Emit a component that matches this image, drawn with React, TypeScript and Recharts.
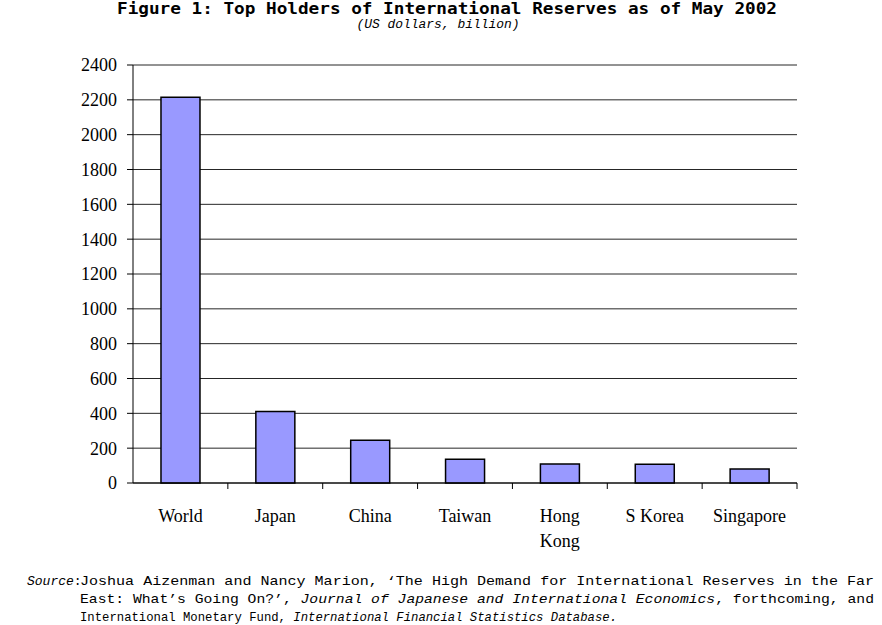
import { Bar, BarChart, CartesianGrid, Text, XAxis, YAxis } from "recharts";

const categories = ["World", "Japan", "China", "Taiwan", "Hong Kong", "S Korea", "Singapore"];
const reserves = [2215, 410, 245, 136, 109, 108, 80];
const yTicks = [0, 200, 400, 600, 800, 1000, 1200, 1400, 1600, 1800, 2000, 2200, 2400];

const data = categories.map((country, i) => ({ country, value: reserves[i] }));

const serif = "'Liberation Serif', 'Times New Roman', serif";
const mono = "'Liberation Mono', 'Courier New', monospace";

function CountryTick(props: any) {
  const { x, y, payload, width, visibleTicksCount } = props;
  const half = width / visibleTicksCount / 2;
  return (
    <g>
      <line x1={x + half} x2={x + half} y1={y} y2={y + 6} stroke="#000" />
      <Text
        x={x}
        y={y + 26}
        width={70}
        textAnchor="middle"
        verticalAnchor="start"
        lineHeight={25}
        style={{ fontSize: 18, fontFamily: serif }}
        fill="#000"
      >
        {payload.value}
      </Text>
    </g>
  );
}

export default function App() {
  return (
    <div style={{ position: "absolute", left: 0, top: 0, width: 882, height: 625, background: "#fff" }}>
      <BarChart
        width={882}
        height={625}
        data={data}
        margin={{ top: 65, left: 73, right: 85, bottom: 82 }}
        barCategoryGap="29.5%"
      >
        <CartesianGrid vertical={false} stroke="#000" strokeOpacity={0.85} />
        <XAxis
          dataKey="country"
          height={60}
          interval={0}
          tickLine={false}
          tickSize={0}
          tickMargin={0}
          axisLine={{ stroke: "#000" }}
          tick={<CountryTick />}
        />
        <YAxis
          width={60}
          domain={[0, 2400]}
          ticks={yTicks}
          interval={0}
          tickSize={6}
          tickMargin={10}
          axisLine={{ stroke: "#000" }}
          tickLine={{ stroke: "#000" }}
          tick={{ fontSize: 18, fontFamily: serif, fill: "#000" }}
        />
        <Bar dataKey="value" fill="#9999ff" stroke="#000" strokeWidth={1.5} isAnimationActive={false} />
      </BarChart>
      <svg
        width={882}
        height={625}
        style={{ position: "absolute", left: 0, top: 0, pointerEvents: "none" }}
      >
        <text
          x={447}
          y={14}
          textAnchor="middle"
          fontFamily="'DejaVu Sans Mono', monospace"
          fontWeight="bold"
          fontSize={15}
          textLength={660}
          lengthAdjust="spacingAndGlyphs"
        >
          Figure 1: Top Holders of International Reserves as of May 2002
        </text>
        <text
          x={438}
          y={28}
          textAnchor="middle"
          fontFamily={mono}
          fontStyle="italic"
          fontSize={12}
          textLength={163}
          lengthAdjust="spacingAndGlyphs"
        >
          (US dollars, billion)
        </text>
        <text x={27} y={585} fontFamily={mono} fontSize={13}>
          <tspan fontStyle="italic">Source</tspan>:
        </text>
        <text x={80} y={585} fontFamily={mono} fontSize={13} textLength={794} lengthAdjust="spacingAndGlyphs">
          Joshua Aizenman and Nancy Marion, ‘The High Demand for International Reserves in the Far
        </text>
        <text x={80} y={603} fontFamily={mono} fontSize={13} textLength={794} lengthAdjust="spacingAndGlyphs">
          East: What’s Going On?’, <tspan fontStyle="italic">Journal of Japanese and International Economics</tspan>, forthcoming, and
        </text>
        <text x={80} y={621} fontFamily={mono} fontSize={13} textLength={537} lengthAdjust="spacingAndGlyphs">
          International Monetary Fund, <tspan fontStyle="italic">International Financial Statistics Database.</tspan>
        </text>
      </svg>
    </div>
  );
}
